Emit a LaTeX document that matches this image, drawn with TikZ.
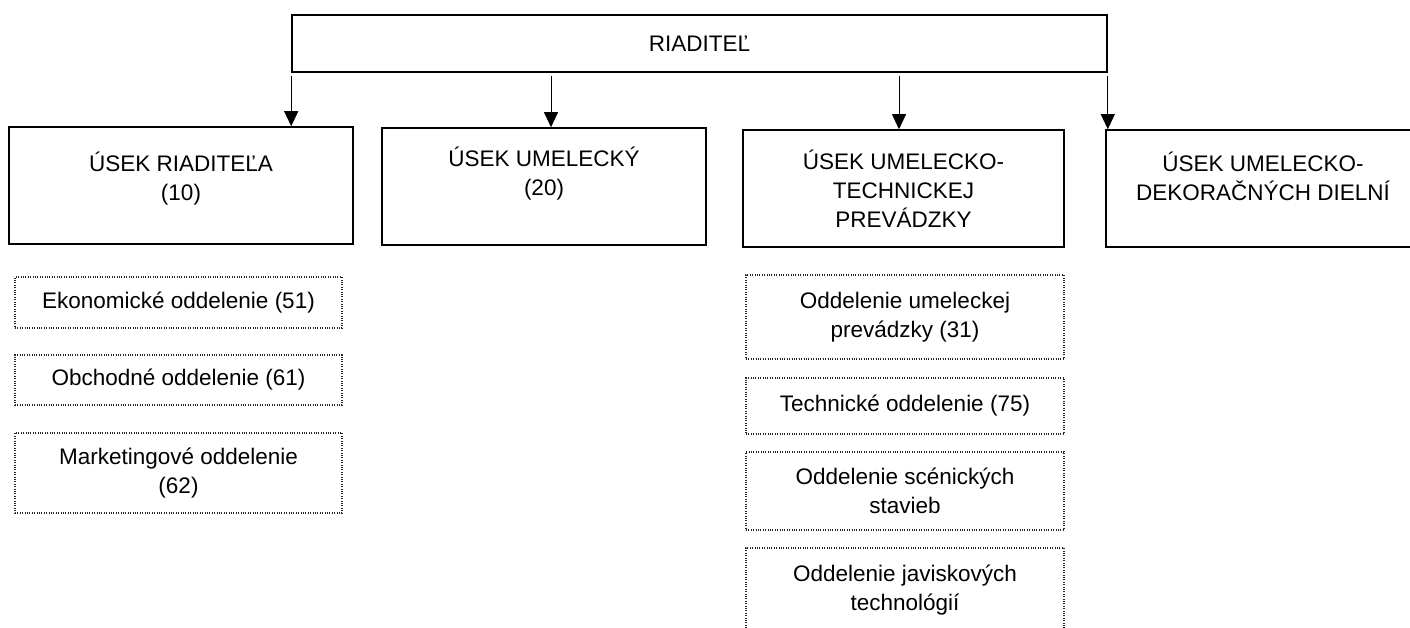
\documentclass[tikz,border=0pt]{standalone}
\usepackage{fontspec}
\setmainfont{Liberation Sans}
\usetikzlibrary{arrows.meta}
\begin{document}
\begin{tikzpicture}[x=1pt,y=-1pt,
  solidbox/.style={draw=black, line width=1.6pt, rectangle, inner sep=0pt},
  dotbox/.style={draw=black!85, line width=1.1pt, dash pattern=on 1pt off 1.4pt, rectangle, inner sep=0pt, align=center, font=\fontsize{22.5pt}{29pt}\selectfont},
  headtext/.style={align=center, inner sep=0pt, anchor=base, font=\fontsize{22.5pt}{29pt}\selectfont},
  arr/.style={draw=black, line width=0.9pt, -{Triangle[width=14pt,length=15pt]}}
]
\useasboundingbox (0,0) rectangle (1410,627);

% top box
\node[solidbox, minimum width=815pt, minimum height=57pt, font=\fontsize{22.5pt}{29pt}\selectfont] (top) at (699.5,43.5) {RIADITEĽ};

% second row
\node[solidbox, minimum width=344pt, minimum height=117pt] (b1) at (181,185.5) {};
\node[solidbox, minimum width=324pt, minimum height=117pt] (b2) at (544,186.5) {};
\node[solidbox, minimum width=321pt, minimum height=117pt] (b3) at (903.5,188.5) {};
\node[solidbox, minimum width=314pt, minimum height=117pt] (b4) at (1263,188.5) {};

\node[headtext] (t1) at (181,200) {ÚSEK RIADITEĽA\\(10)};
\node[headtext] (t2) at (544,195) {ÚSEK UMELECKÝ\\(20)};
\node[headtext] (t3) at (903.5,227) {ÚSEK UMELECKO-\\TECHNICKEJ\\PREVÁDZKY};
\node[headtext] (t4) at (1263,200) {ÚSEK UMELECKO-\\DEKORAČNÝCH DIELNÍ};

% arrows
\draw[arr] ([yshift=-3pt]top.south west) -- (top.south west |- b1.north);
\draw[arr] ([xshift=7pt]b2.north |- top.south) ++(0,3) -- ([xshift=7pt]b2.north);
\draw[arr] ([xshift=-4.5pt]b3.north |- top.south) ++(0,3) -- ([xshift=-4.5pt]b3.north);
\draw[arr] ([yshift=-3pt]top.south east) -- (top.south east |- b4.north);

% left column dotted boxes
\node[dotbox, minimum width=327pt, minimum height=51pt] (e1) at (178.5,302.5) {Ekonomické oddelenie (51)};
\node[dotbox, minimum width=327pt, minimum height=50pt] (e2) at (178.5,380) {Obchodné oddelenie (61)};
\node[dotbox, minimum width=327pt, minimum height=80pt] (e3) at (178.5,473) {Marketingové oddelenie\\(62)};

% right column dotted boxes
\node[dotbox, minimum width=318pt, minimum height=84pt] (r1) at (905,317) {Oddelenie umeleckej\\prevádzky (31)};
\node[dotbox, minimum width=318pt, minimum height=56pt] (r2) at (905,406) {Technické oddelenie (75)};
\node[dotbox, minimum width=318pt, minimum height=78pt] (r3) at (905,491) {Oddelenie scénických\\stavieb};
\node[dotbox, minimum width=318pt, minimum height=84pt] (r4) at (905,590) {Oddelenie javiskových\\technológií};
\end{tikzpicture}
\end{document}
